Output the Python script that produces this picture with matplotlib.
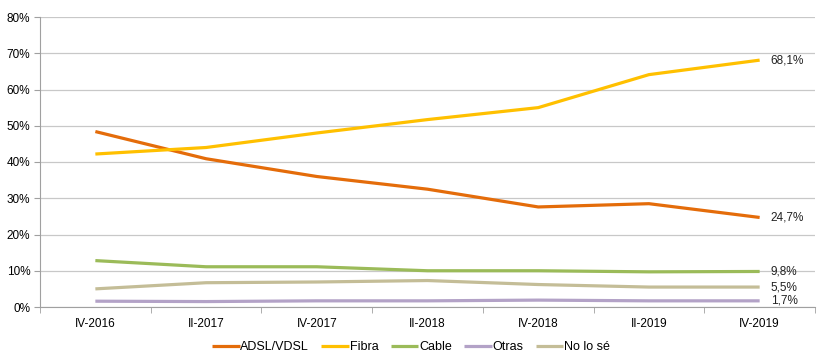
import matplotlib
matplotlib.use("Agg")
import matplotlib.pyplot as plt
from matplotlib.ticker import FixedLocator

plt.rcParams['font.family'] = ['Liberation Sans', 'DejaVu Sans']

periods = ['IV-2016', 'II-2017', 'IV-2017', 'II-2018', 'IV-2018', 'II-2019', 'IV-2019']
adsl = [48.4, 40.9, 36.0, 32.5, 27.6, 28.5, 24.7]
fibra = [42.2, 44.0, 48.0, 51.7, 55.0, 64.1, 68.1]
cable = [12.8, 11.1, 11.1, 10.0, 10.0, 9.7, 9.8]
otras = [1.6, 1.5, 1.7, 1.7, 1.9, 1.7, 1.7]
no_lo_se = [5.0, 6.7, 6.9, 7.3, 6.2, 5.5, 5.5]

series = [
    ('ADSL/VDSL', adsl, '#E46C0A'),
    ('Fibra', fibra, '#FFC000'),
    ('Cable', cable, '#9BBB59'),
    ('Otras', otras, '#B3A2C7'),
    ('No lo sé', no_lo_se, '#C4BD97'),
]

fig = plt.figure(figsize=(8.28, 3.56), dpi=100)
ax = fig.add_axes([40 / 828, 49 / 356, 775 / 828, 290 / 356])

x = list(range(len(periods)))
for name, vals, col in series:
    ax.plot(x, vals, color=col, lw=2.3, label=name, solid_capstyle='butt')

# etiquetas del ultimo valor
for name, vals, col in series:
    ax.text(x[-1] + 0.1, vals[-1], ('%.1f%%' % vals[-1]).replace('.', ','),
            va='center', ha='left', fontsize=8.5, color='#222222')

ax.set_xlim(-0.5, len(periods) - 0.5)
ax.set_ylim(0, 80)
ax.set_yticks(range(0, 81, 10))
ax.set_yticklabels(['%d%%' % v for v in range(0, 81, 10)], fontsize=8.5)
ax.set_xticks(x)
ax.set_xticklabels(periods, fontsize=8.5)
ax.xaxis.set_minor_locator(FixedLocator([i - 0.5 for i in range(len(periods) + 1)]))
ax.tick_params(axis='x', which='major', length=0, pad=8)
ax.tick_params(axis='x', which='minor', length=4, color='#a0a0a0', direction='out')
ax.tick_params(axis='y', length=4, color='#a0a0a0', pad=3)

ax.grid(axis='y', color='#c8c8c8', lw=0.9)
ax.set_axisbelow(True)
for s in ['top', 'right']:
    ax.spines[s].set_visible(False)
for s in ['left', 'bottom']:
    ax.spines[s].set_color('#a0a0a0')

handles, labels = ax.get_legend_handles_labels()
fig.legend(handles, labels, loc='center', bbox_to_anchor=(411 / 828, 1 - 347 / 356),
           ncol=5, frameon=False, fontsize=9, handlelength=2.2, handletextpad=0.05,
           columnspacing=1.0, borderpad=0)

fig.savefig('out.png', dpi=100)
